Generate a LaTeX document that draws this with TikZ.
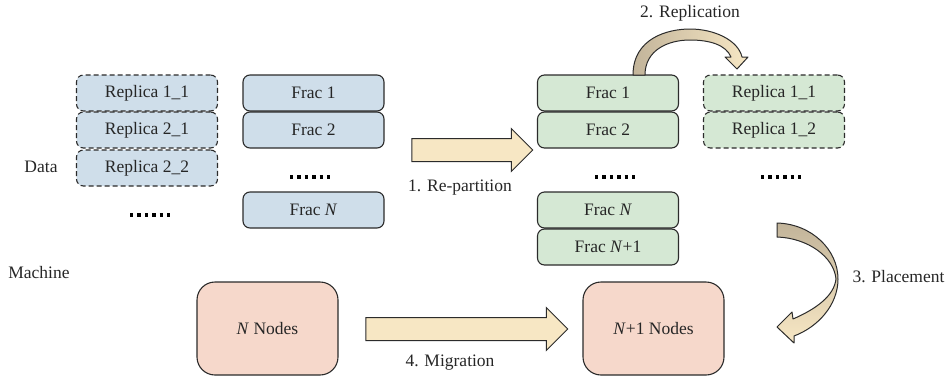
\documentclass[tikz,border=0pt]{standalone}
\usepackage{fontspec}
\setmainfont{Liberation Serif}
\newfontfamily\figfont{Liberation Serif}
\usetikzlibrary{shapes.arrows}

\definecolor{linegray}{HTML}{2B2B2B}
\definecolor{textgray}{HTML}{262626}
\definecolor{fracblue}{HTML}{CFDEEA}
\definecolor{fracgreen}{HTML}{D5E8D4}
\definecolor{machpink}{HTML}{F6D8CB}
\definecolor{arrowlight}{HTML}{F7E7C4}
\definecolor{arrowdark}{HTML}{C2B49A}

\tikzset{
    box/.style={draw=linegray, line width=1.1pt, rounded corners=7pt,
        minimum width=141pt, minimum height=36pt, inner sep=0pt},
    fracbox/.style={box, fill=fracblue},
    replbox/.style={box, fill=fracblue, dashed, dash pattern=on 5pt off 3pt},
    newfrac/.style={box, fill=fracgreen},
    newrepl/.style={replbox, fill=fracgreen},
    machbox/.style={box, fill=machpink, rounded corners=18pt, minimum height=93pt},
    bigarrow/.style={single arrow, draw=linegray, fill=arrowlight, line width=1pt,
        inner xsep=0pt, inner ysep=11pt, text height=0pt, text depth=0pt,
        single arrow head extend=10pt},
    bendarrow/.style={draw=linegray, line width=1pt, line join=round},
    dotrow/.style={line width=3.4pt, dash pattern=on 3.4pt off 4pt, draw=black},
}

\begin{document}
\begin{tikzpicture}[x=1pt, y=-1pt, font=\figfont\fontsize{17.5}{20}\selectfont, text=textgray]
    \useasboundingbox (0,0) rectangle (947,378);

    % Data vor dem Re-partition:
    \node[replbox] (r11) at (147,93) {Replica 1\_1};
    \node[replbox] (r21) at (147,130) {Replica 2\_1};
    \node[replbox] (r22) at (147,168) {Replica 2\_2};
    \draw[dotrow] (130,215) -- (170,215);
    \node[fracbox] (f1) at (313.5,93) {Frac 1};
    \node[fracbox] (f2) at (313.5,130) {Frac 2};
    \draw[dotrow] (290,177) -- (330,177);
    \node[fracbox] (fN) at (313.5,210) {Frac \textit{N}};
    \node (data) at (41,167) {Data};

    % Data nach dem Re-partition:
    \node[newfrac] (g1) at (608,93) {Frac 1};
    \node[newfrac] (g2) at (608,130) {Frac 2};
    \draw[dotrow] (595,177) -- (635,177);
    \node[newfrac] (gN) at (608,210) {Frac \textit{N}};
    \node[newfrac] (gN1) at (608,247) {Frac \textit{N}+1};
    \node[newrepl] (g11) at (774,93) {Replica 1\_1};
    \node[newrepl] (g12) at (774,130) {Replica 1\_2};
    \draw[dotrow] (761,177) -- (801,177);

    % Maschinen:
    \node (machine) at (39,273) {Machine};
    \node[machbox] (nodesN) at (267.5,328.5) {\textit{N} Nodes};
    \node[machbox] (nodesN1) at (653.5,328.5) {\textit{N}+1 Nodes};

    % Pfeile:
    \node[bigarrow, minimum height=121pt] (repart) at (466.5,150) {};
    \node (repartlbl) at (460,188) {1. Re-partition};
    \node[bigarrow, minimum height=202pt] (migr) at (461,329) {};
    \node (migrlbl) at (450,363) {4. Migration};

    \draw[bendarrow, left color=arrowdark, right color=arrowlight]
        (633,75) .. controls (633,38) and (668,29) .. (690,29)
        .. controls (714,29) and (738,40) .. (742,57)
        -- (748,57) -- (737,69) -- (725,57) -- (731,57)
        .. controls (726,45) and (710,40) .. (690,40)
        .. controls (668,40) and (645,50) .. (645,75) -- cycle;
    \node (repllbl) at (690,13) {2. Replication};

    \draw[bendarrow, top color=arrowdark, bottom color=arrowlight]
        (777,223) .. controls (812,224) and (838,250) .. (838,279)
        .. controls (838,305) and (818,327) .. (794,336)
        -- (794,343) -- (777,327) -- (792,312) -- (793,319)
        .. controls (816,309) and (834,296) .. (836,279)
        .. controls (834,257) and (808,238) .. (777,237) -- cycle;
    \node[anchor=west] (placelbl) at (849,277) {3. Placement};
\end{tikzpicture}
\end{document}
